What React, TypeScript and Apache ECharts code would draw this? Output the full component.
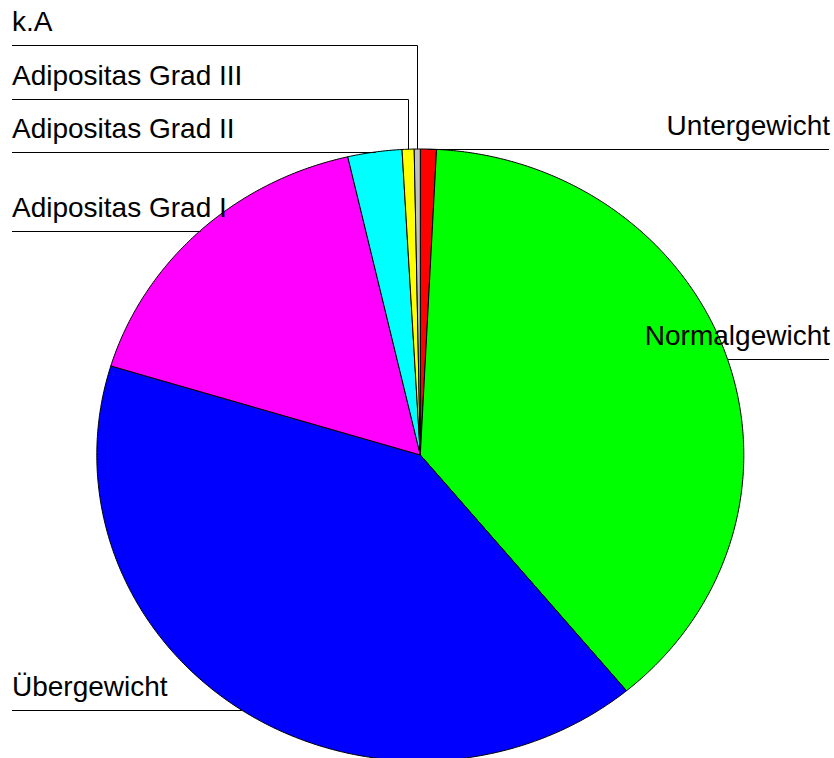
import React, { useEffect, useRef } from 'react';
import * as echarts from 'echarts';

// ---- data ----
const categories: string[] = [
  'Untergewicht',
  'Normalgewicht',
  'Übergewicht',
  'Adipositas Grad I',
  'Adipositas Grad II',
  'Adipositas Grad III',
  'k.A',
];
const shares: number[] = [0.8, 38.2, 40.7, 16.7, 2.7, 0.6, 0.3];

// ---- styles / layout ----
const sliceColors = ['#ff0000', '#00ff00', '#0000ff', '#ff00ff', '#00ffff', '#ffff00', '#c0c0c0'];
const W = 834;
const H = 758;
const CX = 420.3;
const CY = 455;
const RX = 323.5;
const RY = 306;
const FONT = 28;
const LEFT_X = 12;
const RIGHT_X = 829;
const LABEL_GAP = 53.5;

function edgePoint(deg: number): number[] {
  const r = (deg * Math.PI) / 180;
  return [CX + RX * Math.sin(r), CY - RY * Math.cos(r)];
}

const total = shares.reduce((a, b) => a + b, 0);
const starts: number[] = [];
{
  let acc = 0;
  shares.forEach((v) => {
    starts.push((acc / total) * 360);
    acc += v;
  });
}
const mids = shares.map((v, i) => starts[i] + ((v / total) * 360) / 2);
const anchors = mids.map((m) => edgePoint(m));
const sides = anchors.map((a) => (a[0] < CX ? 'left' : 'right'));
const lineYs = anchors.map((a) => a[1]);
['left', 'right'].forEach((side) => {
  const idx = anchors
    .map((_, i) => i)
    .filter((i) => sides[i] === side)
    .sort((a, b) => anchors[b][1] - anchors[a][1]);
  let prev = Infinity;
  idx.forEach((i) => {
    const y = Math.min(anchors[i][1], prev - LABEL_GAP);
    lineYs[i] = y;
    prev = y;
  });
});

export default function App() {
  const ref = useRef<HTMLDivElement>(null);
  useEffect(() => {
    if (!ref.current) return;
    const chart = echarts.init(ref.current, null, { renderer: 'svg' });
    chart.setOption({
      animation: false,
      backgroundColor: '#ffffff',
      series: [
        {
          type: 'custom',
          coordinateSystem: 'none',
          silent: true,
          data: shares.map((v) => [v]),
          renderItem: (params: any, api: any) => {
            const i = params.dataIndex;
            const a0 = starts[i];
            const a1 = a0 + (api.value(0) / total) * 360;
            const n = Math.max(2, Math.ceil((a1 - a0) / 0.5));
            const pts: number[][] = [[CX, CY]];
            for (let k = 0; k <= n; k++) pts.push(edgePoint(a0 + ((a1 - a0) * k) / n));
            const [ax, ay] = anchors[i];
            const ly = Math.round(lineYs[i]) + 0.5;
            const left = sides[i] === 'left';
            const ex = left ? LEFT_X : RIGHT_X;
            return {
              type: 'group',
              children: [
                {
                  type: 'polygon',
                  z2: 1,
                  shape: { points: pts },
                  style: { fill: sliceColors[i], stroke: '#000', lineWidth: 1 },
                },
                {
                  type: 'polyline',
                  z2: 10,
                  shape: { points: [[Math.round(ax) + 0.5, ay], [Math.round(ax) + 0.5, ly], [ex, ly]] },
                  style: { stroke: '#000', lineWidth: 1, fill: null },
                },
                {
                  type: 'text',
                  z2: 20,
                  x: left ? LEFT_X : RIGHT_X + 1,
                  y: ly - 24,
                  style: {
                    text: categories[i],
                    fontSize: FONT,
                    fontFamily: '"Liberation Sans", Arial, sans-serif',
                    fill: '#000',
                    align: left ? 'left' : 'right',
                    verticalAlign: 'middle',
                  },
                },
              ],
            };
          },
        },
      ],
    });
    return () => chart.dispose();
  }, []);
  return (
    <div
      ref={ref}
      style={{ position: 'absolute', left: 0, top: 0, width: W, height: H, overflow: 'hidden', background: '#fff' }}
    />
  );
}
